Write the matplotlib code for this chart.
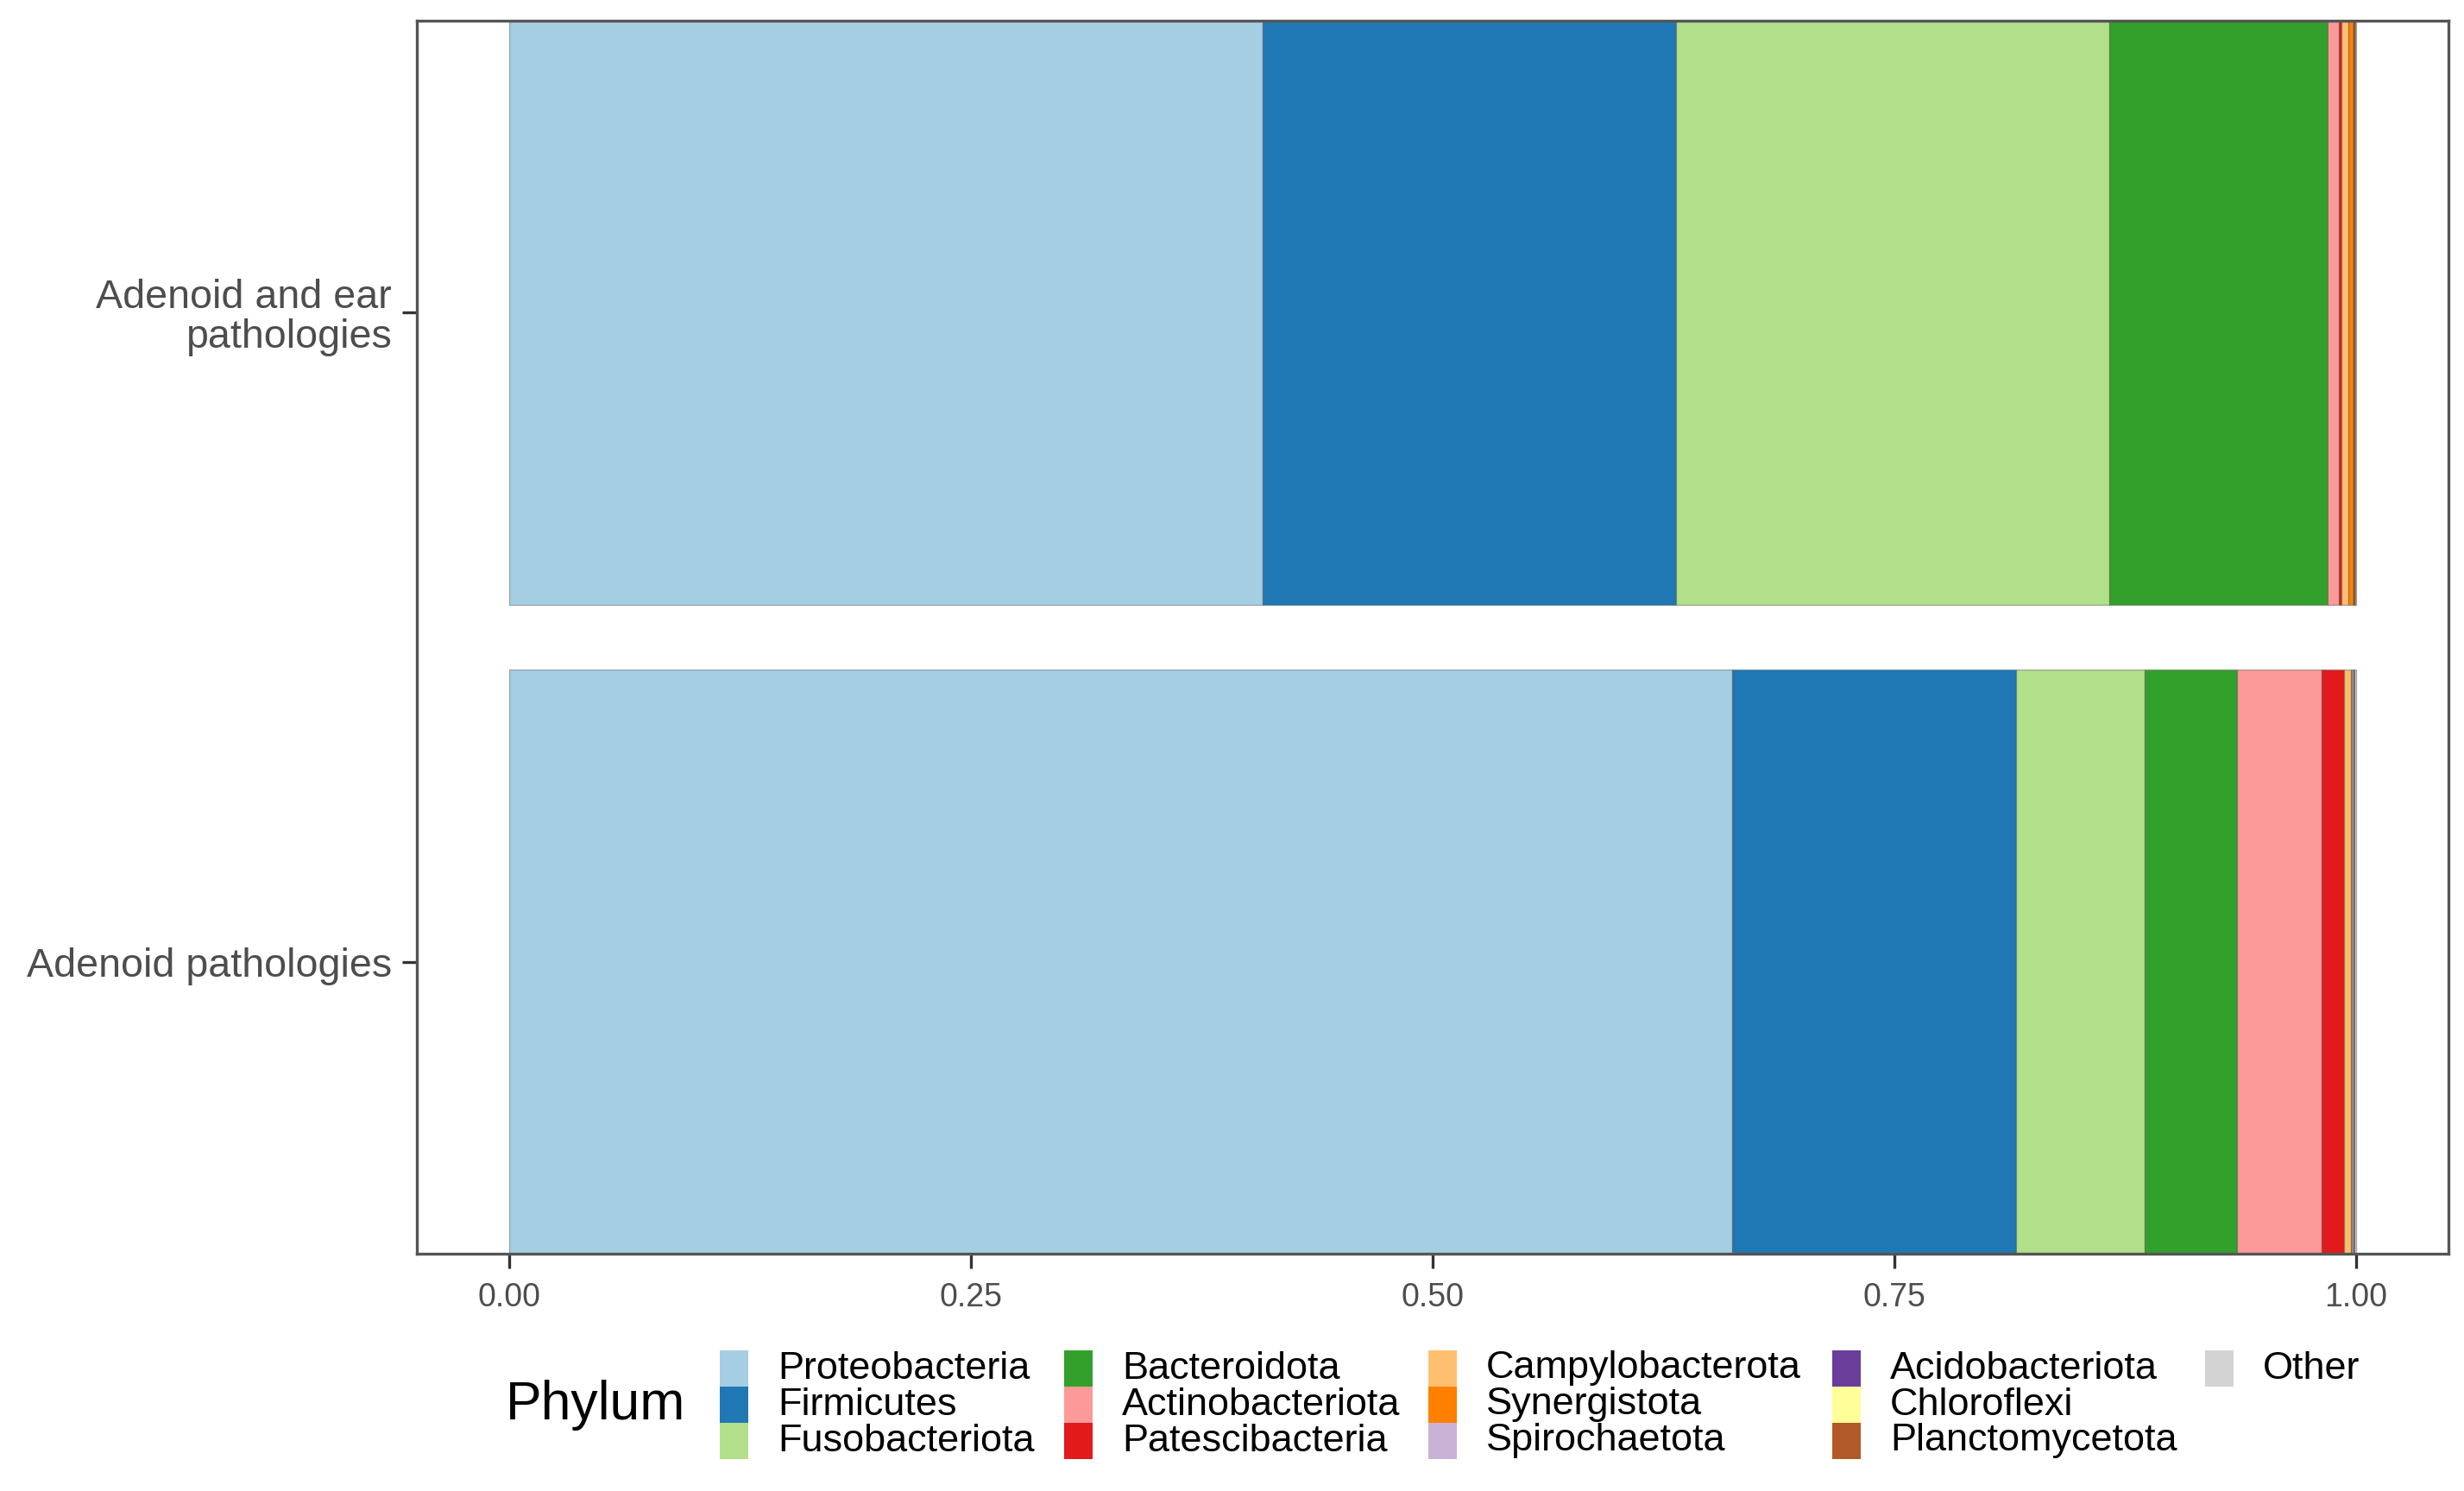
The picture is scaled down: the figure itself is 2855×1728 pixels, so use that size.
import matplotlib
matplotlib.use('Agg')
import matplotlib.pyplot as plt
from matplotlib.patches import Rectangle

plt.rcParams['font.family'] = ['Liberation Sans', 'DejaVu Sans']

# groups, bottom to top
groups = ['Adenoid pathologies', 'Adenoid and ear\npathologies']

phyla = ['Proteobacteria', 'Firmicutes', 'Fusobacteriota',
         'Bacteroidota', 'Actinobacteriota', 'Patescibacteria',
         'Campylobacterota', 'Synergistota', 'Spirochaetota',
         'Acidobacteriota', 'Chloroflexi', 'Planctomycetota', 'Other']

colors = ['#A6CEE3', '#1F78B4', '#B2DF8A', '#33A02C', '#FB9A99', '#E31A1C',
          '#FDBF6F', '#FF7F00', '#CAB2D6', '#6A3D9A', '#FFFF99', '#B15928',
          '#D3D3D3']

# relative abundance per phylum: [Adenoid pathologies, Adenoid and ear pathologies]
abund = {
    'Proteobacteria':   [0.6620, 0.4080],
    'Firmicutes':       [0.1541, 0.2239],
    'Fusobacteriota':   [0.0693, 0.2345],
    'Bacteroidota':     [0.0500, 0.1184],
    'Actinobacteriota': [0.0458, 0.0059],
    'Patescibacteria':  [0.0122, 0.0012],
    'Campylobacterota': [0.0040, 0.0039],
    'Synergistota':     [0.0003, 0.0026],
    'Spirochaetota':    [0.0008, 0.0002],
    'Acidobacteriota':  [0.0002, 0.0001],
    'Chloroflexi':      [0.0001, 0.0001],
    'Planctomycetota':  [0.0002, 0.0005],
    'Other':            [0.0010, 0.0007],
}

xticks = [0.0, 0.25, 0.5, 0.75, 1.0]
xticklabels = ['0.00', '0.25', '0.50', '0.75', '1.00']

W, H = 2855, 1728
fig = plt.figure(figsize=(W / 300, H / 300), dpi=300)
ax = fig.add_axes([483 / W, 1 - 1453 / H, (2837 - 483) / W, (1453 - 24) / H])

ypos = [1, 2]
left = [0.0, 0.0]
for name, col in zip(phyla, colors):
    vals = abund[name]
    ax.barh(ypos, vals, left=left, height=0.9, color=col,
            edgecolor=(0.3, 0.3, 0.3, 0.45), linewidth=0.3, label=name)
    left = [l + v for l, v in zip(left, vals)]

ax.set_xlim(-0.05, 1.05)
ax.set_ylim(0.55, 2.45)
ax.set_xticks(xticks)
ax.set_xticklabels(xticklabels, fontsize=9, color='#4D4D4D')
ax.set_yticks(ypos)
ax.set_yticklabels(groups, fontsize=11.2, color='#4D4D4D', ha='right',
                   linespacing=1.05)
ax.tick_params(axis='both', length=4, width=0.8, color='#333333', pad=3)
ax.tick_params(axis='x', pad=4)
for sp in ax.spines.values():
    sp.set_color('#555555')
    sp.set_linewidth(0.8)

# legend drawn by hand: title on the left, 3 rows filled by column
fig.text(586 / W, 1 - 1628 / H, 'Phylum', fontsize=15, color='black',
         ha='left', va='center')
key_x = [834, 1233, 1655, 2123, 2555]
key_w, key_h, top = 33, 42, 1565
for i, (name, col) in enumerate(zip(phyla, colors)):
    c, r = divmod(i, 3)
    x0 = key_x[c]
    y0 = top + r * key_h
    fig.patches.append(Rectangle((x0 / W, 1 - (y0 + key_h) / H), key_w / W,
                                 key_h / H, transform=fig.transFigure,
                                 facecolor=col, edgecolor='none'))
    fig.text((x0 + 67) / W, 1 - (y0 + key_h / 2) / H, name, fontsize=10.8,
             color='black', ha='left', va='center')

fig.savefig('out.png', dpi=300, facecolor='white')
